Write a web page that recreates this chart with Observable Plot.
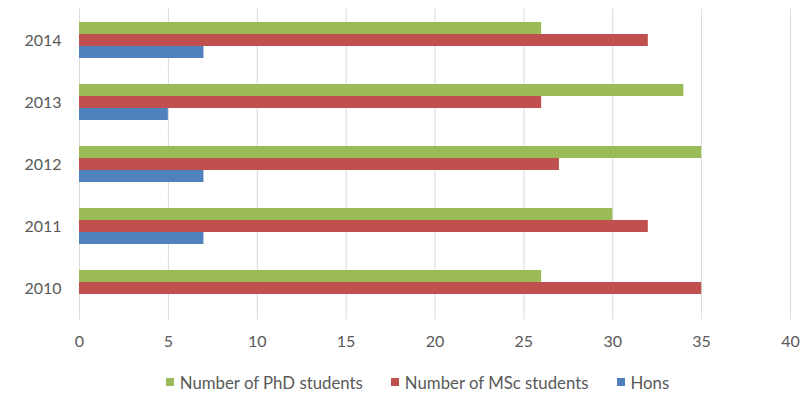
<!DOCTYPE html>
<html>
<head>
<meta charset="utf-8">
<script src="https://cdn.jsdelivr.net/npm/d3@7"></script>
<script src="https://cdn.jsdelivr.net/npm/@observablehq/plot@0.6"></script>
<style>
  body { margin: 0; background: #fff; font-family: Lato, sans-serif; }
  #legend { display: flex; justify-content: center; align-items: center; gap: 28px; height: 20px; margin-top: 12px; padding-left: 30px; font-size: 16.8px; color: #595959; }
  #legend .item { display: flex; align-items: center; }
  #legend .sw { width: 8px; height: 8px; margin-right: 6px; }
</style>
</head>
<body>
<div id="chart"></div>
<div id="legend"></div>
<script>
const years = ["2014", "2013", "2012", "2011", "2010"];
const series = ["Number of PhD students", "Number of MSc students", "Hons"];
const phd = [26, 34, 35, 30, 26];
const msc = [32, 26, 27, 32, 35];
const hons = [7, 5, 7, 7, null];
const colors = ["#9BBB59", "#C0504D", "#4F81BD"];
const xTicks = [0, 5, 10, 15, 20, 25, 30, 35, 40];

const values = [phd, msc, hons];
const data = years.flatMap((yr, i) =>
  series.map((s, j) => ({year: yr, series: s, value: values[j][i]})).filter(d => d.value != null)
);

const chart = Plot.plot({
  width: 805,
  height: 360,
  marginTop: 7,
  marginBottom: 40,
  marginLeft: 79,
  marginRight: 15,
  style: {fontFamily: "Lato, sans-serif", fontSize: "16px", color: "#595959", background: "#fff"},
  x: {domain: [0, 40], ticks: xTicks, label: null, tickSize: 0, tickPadding: 28},
  fy: {domain: years, paddingInner: 0.39, paddingOuter: 0.185, label: null, tickSize: 0, tickPadding: 18},
  y: {domain: series, axis: null, padding: 0},
  color: {domain: series, range: colors},
  marks: [
    Plot.ruleX(xTicks, {x: d => d, stroke: "#d9d9d9", strokeWidth: 1, insetTop: -12.4, insetBottom: -12.4}),
    Plot.barX(data, {x: "value", y: "series", fy: "year", fill: "series"})
  ]
});
document.getElementById("chart").appendChild(chart);

const legend = document.getElementById("legend");
series.forEach((s, i) => {
  const item = document.createElement("div");
  item.className = "item";
  const sw = document.createElement("span");
  sw.className = "sw";
  sw.style.background = colors[i];
  const t = document.createElement("span");
  t.textContent = s;
  item.appendChild(sw);
  item.appendChild(t);
  legend.appendChild(item);
});
</script>
</body>
</html>
